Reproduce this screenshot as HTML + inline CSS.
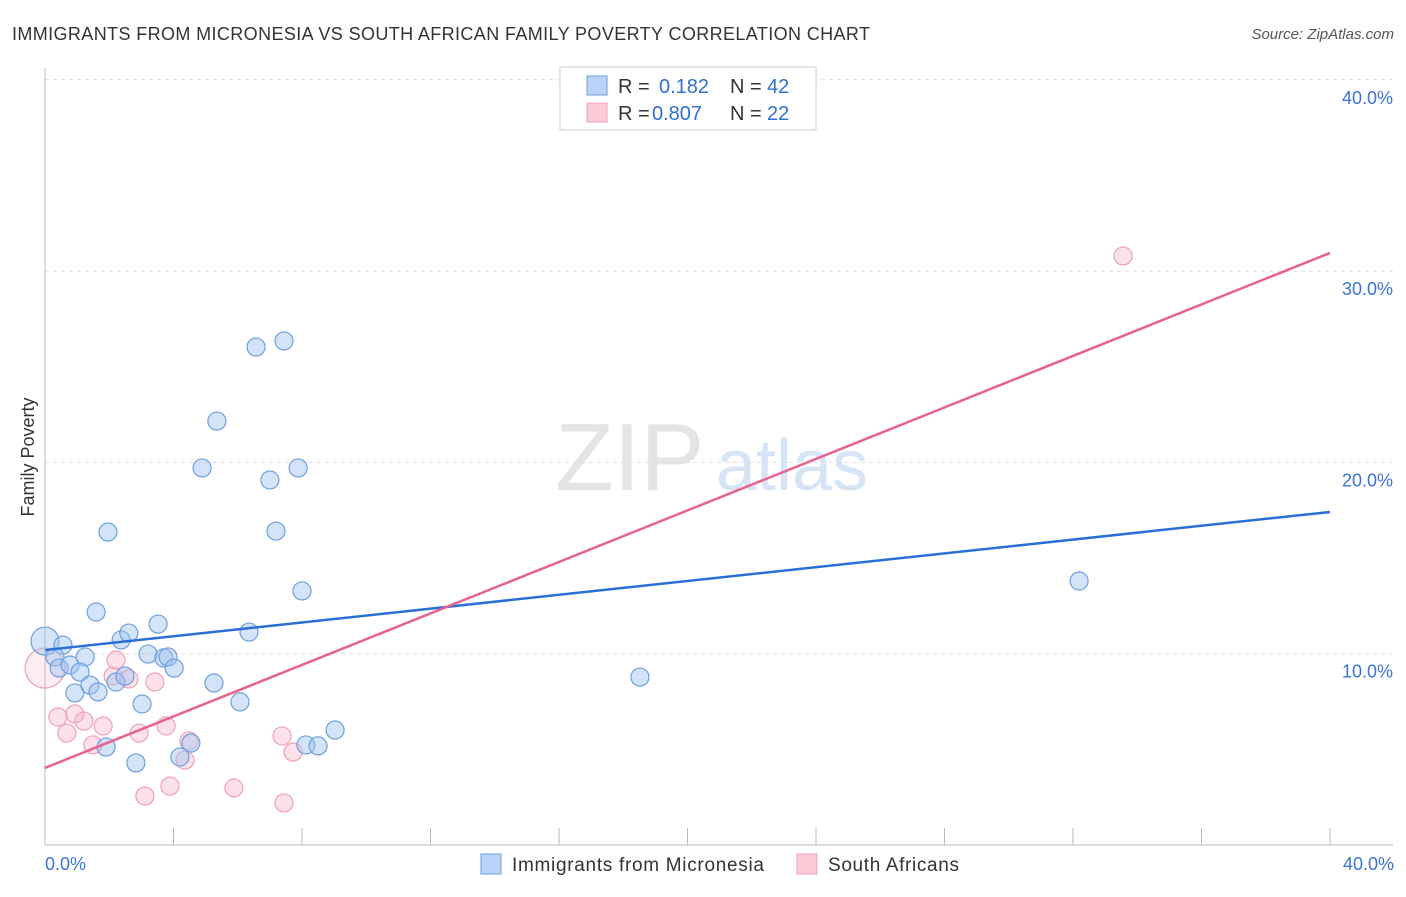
<!DOCTYPE html>
<html><head><meta charset="utf-8"><style>
body{margin:0;background:#fff;font-family:"Liberation Sans",sans-serif;}
svg text{font-family:"Liberation Sans",sans-serif;}
</style></head><body>
<svg id="chart" width="1406" height="892" xmlns="http://www.w3.org/2000/svg">
<text x="12" y="40" font-size="18" fill="#333" textLength="858" lengthAdjust="spacing">IMMIGRANTS FROM MICRONESIA VS SOUTH AFRICAN FAMILY POVERTY CORRELATION CHART</text>
<text x="1394" y="39" font-size="15" fill="#555" text-anchor="end" font-style="italic">Source: ZipAtlas.com</text>
<text x="555" y="490" font-size="96" fill="#e4e4e4" font-family="Liberation Serif">ZIP</text>
<text x="716" y="490" font-size="72" fill="#d6e4f6">atlas</text>
<g id="grid"></g>
<g id="axes"></g>
<g id="marks"></g>
<g>
<rect x="560" y="67" width="256" height="63" fill="#fff" stroke="#ccc"/>
<rect x="587" y="76" width="20" height="19" fill="#b9d4f7" stroke="#6d9fe0"/>
<rect x="587" y="103" width="20" height="19" fill="#fbcbd8" stroke="#f0a0b8"/>
<text x="618" y="93" font-size="20" fill="#333">R = <tspan fill="#2f6fd6" x="659">0.182</tspan><tspan fill="#333" x="730">N =</tspan><tspan fill="#2f6fd6" x="767">42</tspan></text>
<text x="618" y="120" font-size="20" fill="#333">R = <tspan fill="#2f6fd6" x="652">0.807</tspan><tspan fill="#333" x="730">N =</tspan><tspan fill="#2f6fd6" x="767">22</tspan></text>
</g>
<text transform="translate(34,457) rotate(-90)" font-size="18" fill="#333" text-anchor="middle">Family Poverty</text>
<text x="45" y="870" font-size="18" fill="#3a74d6">0.0%</text>
<text x="1394" y="870" font-size="18" fill="#3a74d6" text-anchor="end">40.0%</text>
<g>
<rect x="481" y="854" width="20" height="20" fill="#b9d4f7" stroke="#6d9fe0"/>
<text x="512" y="871" font-size="19" fill="#333" textLength="252" lengthAdjust="spacing">Immigrants from Micronesia</text>
<rect x="797" y="854" width="20" height="20" fill="#fbcbd8" stroke="#f0a0b8"/>
<text x="828" y="871" font-size="19" fill="#333" textLength="131" lengthAdjust="spacing">South Africans</text>
</g>
</svg>
<script>
const yTicks=[10,20,30,40];
const yTickLabels=["10.0%","20.0%","30.0%","40.0%"];
const blueX=[0,0.56,0.31,0.44,0.78,1.25,1.09,0.93,1.40,1.65,1.59,1.96,2.37,2.61,2.21,2.49,1.90,3.02,2.83,3.21,3.52,3.70,3.83,4.02,4.20,4.54,4.89,5.26,5.35,6.07,6.35,6.57,7.44,7.00,7.88,7.19,8.00,8.12,8.50,9.03,18.52,32.19];
const blueY=[10.66,10.45,9.83,9.25,9.41,9.83,9.04,7.95,8.36,8.00,12.18,16.36,10.72,11.08,8.52,8.83,5.12,7.37,4.29,9.98,11.55,9.78,9.83,9.25,4.60,5.33,19.71,8.47,22.16,7.48,11.13,26.03,26.35,19.08,19.71,16.41,13.28,5.23,5.18,6.01,8.78,13.80];
const pinkX=[0,0.40,0.68,0.93,1.21,1.49,1.81,2.12,2.21,2.61,2.93,3.11,3.42,3.77,3.89,4.36,4.48,5.88,7.38,7.72,7.44,33.56];
const pinkY=[9.25,6.69,5.85,6.85,6.48,5.23,6.22,8.83,9.67,8.68,5.85,2.56,8.52,6.22,3.08,4.44,5.44,2.98,5.70,4.86,2.20,30.79];
const blueTrend=[10.19,17.41];
const pinkTrend=[4.03,30.95];
const NS='http://www.w3.org/2000/svg';
const X=v=>45+v*32.125, Y=v=>845-v*19.13;
function mk(tag,attrs,parent){const e=document.createElementNS(NS,tag);for(const k in attrs)e.setAttribute(k,attrs[k]);document.getElementById(parent).appendChild(e);return e;}
yTicks.forEach((t,i)=>{
 let l=mk('line',{x1:45,x2:1393,y1:Y(t),y2:Y(t),stroke:'#ddd','stroke-dasharray':'4,4'},'grid');
 
 
 let tx=mk('text',{x:1393,y:Y(t)+24,'font-size':18,fill:'#3a74d6','text-anchor':'end'},'grid');
 tx.textContent=yTickLabels[i];
 
 
});
let ax=mk('line',{x1:45,x2:1393,y1:845,y2:845,stroke:'#bbb'},'axes');


let ay=mk('line',{x1:45,x2:45,y1:68,y2:845,stroke:'#bbb'},'axes');


for(let i=0;i<=10;i++){
 let t=mk('line',{x1:X(i*4),x2:X(i*4),y1:828,y2:845,stroke:'#bbb'},'axes');
 
 
}
pinkX.forEach((x,i)=>{
 let c=mk('circle',{cx:X(x),cy:Y(pinkY[i]),r:i===0?20:9,fill:i===0?'rgba(248,180,200,0.25)':'rgba(248,180,200,0.4)',stroke:'#f0a0b8','stroke-width':1.2},'marks');
 
 
});
blueX.forEach((x,i)=>{
 let c=mk('circle',{cx:X(x),cy:Y(blueY[i]),r:i===0?14:9,fill:'rgba(160,196,240,0.45)',stroke:'#6d9fe0','stroke-width':1.2},'marks');
 
 
});
let bl=mk('line',{x1:X(0),x2:X(40),y1:Y(blueTrend[0]),y2:Y(blueTrend[1]),stroke:'#2a6fd6','stroke-width':2.5},'marks');


let pl=mk('line',{x1:X(0),x2:X(40),y1:Y(pinkTrend[0]),y2:Y(pinkTrend[1]),stroke:'#e8628e','stroke-width':2.5},'marks');


</script>
</body></html>
